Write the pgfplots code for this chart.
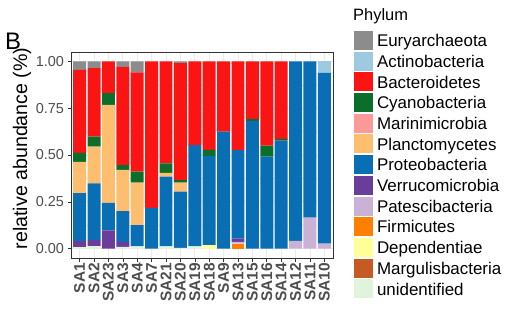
\documentclass[border=0pt]{standalone}
\usepackage{pgfplots}
\pgfplotsset{compat=1.18}
\usepackage{pgfplotstable}
\usepackage{fontspec}
\setmainfont{Liberation Sans}
\definecolor{ceury}{HTML}{8C8C8C}
\definecolor{cacti}{HTML}{9ECAE1}
\definecolor{cbact}{HTML}{FB1414}
\definecolor{ccyan}{HTML}{0B6E2B}
\definecolor{cmari}{HTML}{FB9A99}
\definecolor{cplan}{HTML}{FDBF6F}
\definecolor{cprot}{HTML}{0A6EB4}
\definecolor{cverr}{HTML}{6A3D9A}
\definecolor{cpate}{HTML}{CAB2D6}
\definecolor{cfirm}{HTML}{FF7F00}
\definecolor{cdep}{HTML}{FFFF99}
\definecolor{cmarg}{HTML}{C65A24}
\definecolor{cun}{HTML}{E0F3DB}
\definecolor{gtwenty}{HTML}{333333}
\definecolor{gthirty}{HTML}{4D4D4D}
\definecolor{ggrid}{HTML}{EBEBEB}
\pgfplotstableread{
x un marg dep firm pate verr prot plan mari cyan bact acti eury
1 0.008 0 0 0 0 0.032 0.257 0.166 0 0.048 0.444 0 0.045
2 0.014 0 0 0 0 0.031 0.303 0.197 0 0.053 0.366 0 0.036
3 0 0 0 0 0 0.098 0.147 0.523 0 0.062 0.170 0 0
4 0.009 0 0 0 0 0.027 0.164 0.220 0 0.026 0.524 0 0.030
5 0.012 0 0 0 0 0 0.113 0.227 0 0.059 0.530 0 0.059
6 0 0 0 0 0 0 0.218 0 0 0 0.782 0 0
7 0.012 0 0 0 0 0 0.372 0.021 0 0.050 0.545 0 0
8 0.004 0 0 0 0 0 0.300 0.048 0 0.014 0.624 0 0.010
9 0.012 0 0 0 0 0 0.541 0 0 0 0.447 0 0
10 0 0 0.020 0 0 0 0.475 0 0 0.032 0.473 0 0
11 0 0 0 0 0 0 0.625 0 0 0 0.375 0 0
12 0 0 0 0.027 0.009 0.018 0.472 0 0 0 0.474 0 0
13 0 0 0 0 0 0 0.682 0 0 0.009 0.309 0 0
14 0 0 0 0 0 0 0.491 0 0 0.059 0.450 0 0
15 0 0 0 0 0 0 0.577 0 0 0.009 0.414 0 0
16 0 0 0 0 0.041 0 0.959 0 0 0 0 0 0
17 0 0 0 0 0.166 0 0.834 0 0 0 0 0 0
18 0 0 0 0 0.027 0 0.911 0 0 0 0 0.062 0
}\data
\begin{document}
\begin{tikzpicture}
\path[use as bounding box] (0,0) rectangle (510bp,327bp);
\begin{axis}[
  at={(71bp,69bp)}, anchor=south west,
  width=262bp, height=206bp, scale only axis,
  xmin=0.4, xmax=18.6, ymin=-0.05, ymax=1.05,
  ybar stacked, bar width=0.9,
  axis line style={draw=gtwenty, line width=0.6bp},
  xtick={1,...,18},
  xticklabels={SA1,SA2,SA23,SA3,SA4,SA7,SA21,SA20,SA19,SA18,SA9,SA13,SA15,SA16,SA14,SA12,SA11,SA10},
  x tick label style={rotate=90, anchor=east, inner sep=1.5bp, font=\fontsize{15.5}{16}\selectfont\bfseries, text=gthirty},
  ytick={0,0.25,0.5,0.75,1},
  minor ytick={0.125,0.375,0.625,0.875},
  y tick label style={font=\fontsize{14.5}{15}\selectfont, text=gthirty},
  yticklabel style={/pgf/number format/.cd, fixed, fixed zerofill, precision=2, assume math mode=true},
  tick pos=left, tick align=outside,
  major tick length=3.5bp, minor tick length=0pt,
  major tick style={draw=gtwenty, line width=0.6bp},
  xmajorgrids, ymajorgrids, yminorgrids,
  major grid style={draw=ggrid, line width=0.8bp},
  minor grid style={draw=ggrid, line width=0.4bp},
  ylabel={relative abundance (\%)},
  ylabel style={at={(axis description cs:-0.187,0.532)}, anchor=center, font=\fontsize{19.7}{20}\selectfont},
  every axis plot/.append style={draw=none},
  every axis plot post/.append style={legend image code/.code={\fill[##1] (0bp,-9.5bp) rectangle (19bp,9.5bp);}},
  reverse legend,
  legend cell align=left,
  legend style={draw=none, fill=none, at={(axis description cs:1.0802,1.102)}, anchor=north west,
    inner sep=0pt, outer sep=0pt, row sep=1.7bp, column sep=4bp,
    font=\fontsize{17}{18}\selectfont,
    nodes={inner xsep=0pt, inner ysep=0pt, text height=15.7bp, text depth=3.3bp}},
]
\addplot[fill=cun] table[x=x,y=un]{\data};
\addplot[fill=cmarg] table[x=x,y=marg]{\data};
\addplot[fill=cdep] table[x=x,y=dep]{\data};
\addplot[fill=cfirm] table[x=x,y=firm]{\data};
\addplot[fill=cpate] table[x=x,y=pate]{\data};
\addplot[fill=cverr] table[x=x,y=verr]{\data};
\addplot[fill=cprot] table[x=x,y=prot]{\data};
\addplot[fill=cplan] table[x=x,y=plan]{\data};
\addplot[fill=cmari] table[x=x,y=mari]{\data};
\addplot[fill=ccyan] table[x=x,y=cyan]{\data};
\addplot[fill=cbact] table[x=x,y=bact]{\data};
\addplot[fill=cacti] table[x=x,y=acti]{\data};
\addplot[fill=ceury] table[x=x,y=eury]{\data};
\legend{unidentified,Margulisbacteria,Dependentiae,Firmicutes,Patescibacteria,Verrucomicrobia,Proteobacteria,Planctomycetes,Marinimicrobia,Cyanobacteria,Bacteroidetes,Actinobacteria,Euryarchaeota}
\end{axis}
\node[anchor=base west, inner sep=0pt, font=\fontsize{24}{24}\selectfont] at (5bp,277.5bp) {B};
\node[anchor=base west, inner sep=0pt, font=\fontsize{16.5}{17}\selectfont] at (353bp,306bp) {Phylum};
\end{tikzpicture}
\end{document}
